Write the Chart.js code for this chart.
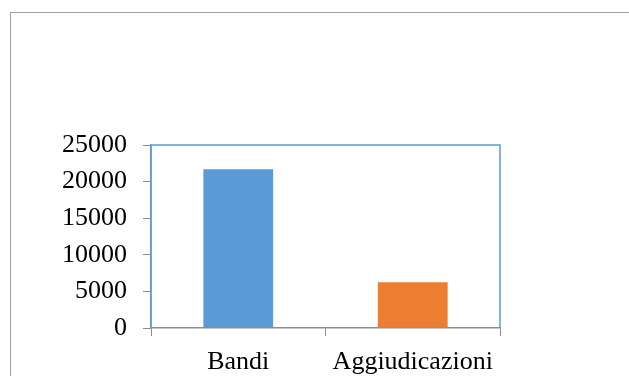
<!DOCTYPE html>
<html>
<head>
<meta charset="utf-8">
<script src="https://cdn.jsdelivr.net/npm/chart.js@4"></script>
<style>
  html, body { margin: 0; padding: 0; background: #fff; overflow: hidden; }
  #wrap { position: relative; width: 629px; height: 376px; }
  #frame { position: absolute; left: 10px; top: 12px; width: 640px; height: 400px;
           border-left: 1px solid #a0a0a0; border-top: 1px solid #a0a0a0; }
  canvas { position: absolute; left: 0; top: 0; }
</style>
</head>
<body>
<div id="wrap">
  <div id="frame"></div>
  <canvas id="chart" width="629" height="376"></canvas>
</div>
<script>
const categorie = ["Bandi", "Aggiudicazioni"];
const valori = [21700, 6250];
const colori = ["#5B9BD5", "#ED7D31"];
const yTicks = [0, 5000, 10000, 15000, 20000, 25000];

const fontAssi = { family: "'Liberation Serif', 'Times New Roman', serif", size: 26 };

// bordo blu dell'area del grafico (sopra, sinistra, destra)
const bordoArea = {
    id: "bordoArea",
    afterDatasetsDraw(chart) {
        const { ctx, chartArea: a } = chart;
        ctx.save();
        ctx.strokeStyle = "#5B9BD5";
        ctx.lineWidth = 1.5;
        ctx.beginPath();
        ctx.moveTo(a.left, a.bottom);
        ctx.lineTo(a.left, a.top);
        ctx.lineTo(a.right, a.top);
        ctx.lineTo(a.right, a.bottom);
        ctx.stroke();
        ctx.restore();
    }
};

const ctx = document.getElementById("chart").getContext("2d");
new Chart(ctx, {
    type: "bar",
    data: {
        labels: categorie,
        datasets: [{
            data: valori,
            backgroundColor: colori,
            borderWidth: 0,
            barPercentage: 0.4,
            categoryPercentage: 1
        }]
    },
    options: {
        responsive: false,
        animation: false,
        layout: { padding: { left: 0, right: 129, top: 145, bottom: 0 } },
        plugins: { legend: { display: false }, tooltip: { enabled: false } },
        scales: {
            x: {
                afterFit(scale) { scale.height = 48; },
                grid: { drawOnChartArea: false, tickLength: 8, color: "#8c8c8c" },
                border: { color: "#8c8c8c", width: 1.5 },
                ticks: { color: "#000", font: fontAssi, padding: 11 }
            },
            y: {
                min: 0,
                max: 25000,
                afterFit(scale) { scale.width = 151; },
                afterBuildTicks(scale) { scale.ticks = yTicks.map(v => ({ value: v })); },
                grid: { drawOnChartArea: false, tickLength: 8, color: "#8c8c8c" },
                border: { color: "#5B9BD5", width: 1.5 },
                ticks: { color: "#000", font: fontAssi, padding: 16, callback: v => String(v) }
            }
        }
    },
    plugins: [bordoArea]
});
</script>
</body>
</html>
